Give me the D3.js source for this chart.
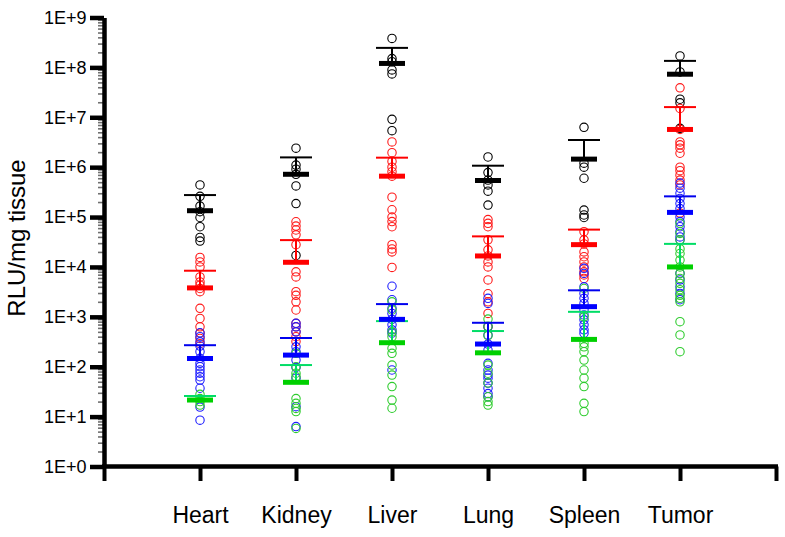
<!DOCTYPE html>
<html>
<head>
<meta charset="utf-8">
<script src="https://cdn.jsdelivr.net/npm/d3@7"></script>
<style>
  html, body { margin: 0; padding: 0; background: #ffffff; }
  svg { display: block; font-family: "Liberation Sans", Arial, sans-serif; }
</style>
</head>
<body>
<svg id="chart" width="785" height="537"></svg>
<script>
// ---------- DATA ----------
const categories = ["Heart", "Kidney", "Liver", "Lung", "Spleen", "Tumor"];
const yTickValues = [1, 1e1, 1e2, 1e3, 1e4, 1e5, 1e6, 1e7, 1e8, 1e9];
const yTickLabels = ["1E+0", "1E+1", "1E+2", "1E+3", "1E+4", "1E+5", "1E+6", "1E+7", "1E+8", "1E+9"];
const yLabel = "RLU/mg tissue";

// individual points per category (Heart, Kidney, Liver, Lung, Spleen, Tumor)
const blackPoints = [
  [4.4e5, 2.6e5, 1.66e5, 1.28e5, 9.8e4, 6.4e4, 3.9e4, 3.3e4],
  [2.4e6, 1.1e6, 9.1e5, 7.2e5, 4.2e5, 1.86e5, 1.7e4],
  [3.8e8, 1.5e8, 1.3e8, 8.9e7, 7.4e7, 9.1e6, 5.4e6],
  [1.6e6, 7.8e5, 5.5e5, 4.4e5, 3.3e5, 1.74e5],
  [6.3e6, 1.2e6, 1.0e6, 6.0e5, 1.38e5, 1.1e5, 9.8e4],
  [1.7e8, 8.1e7, 2.3e7, 1.95e7, 6.0e6]
];
const redPoints = [
  [1.55e4, 1.26e4, 1.0e4, 6.3e3, 5.0e3, 4.3e3, 3.7e3, 3.2e3, 1.48e3, 9.3e2, 6.3e2, 4.7e2, 3.7e2, 2.9e2],
  [8.05e4, 6.6e4, 5.5e4, 4.4e4, 2.8e4, 8.0e3, 6.3e3, 3.2e3, 2.7e3, 2.0e3, 1.37e3, 7.4e2, 6.3e2, 5.0e2, 4.0e2, 3.2e2],
  [3.2e6, 1.95e6, 1.3e6, 1.0e6, 8.1e5, 6.6e5, 2.5e5, 1.4e5, 1.0e5, 8.1e4, 6.4e4, 2.8e4, 2.3e4, 2.0e4, 9.8e3],
  [8.9e4, 7.5e4, 6.4e4, 3.5e4, 2.2e4, 1.66e4, 1.26e4, 1.0e4, 5.5e3, 2.9e3, 2.0e3, 1.17e3, 6.3e2],
  [5.1e4, 3.5e4, 2.9e4, 2.0e4, 1.6e4, 1.26e4, 1.0e4, 8.0e3, 6.9e3, 5.9e3],
  [3.9e7, 1.5e7, 5.7e6, 3.2e6, 2.8e6, 2.4e6, 1.9e6, 1.0e6, 8.5e5, 6.9e5, 5.5e5, 4.4e5, 1.2e5]
];
const bluePoints = [
  [480, 400, 316, 260, 200, 147, 117, 100, 86, 74, 63, 54, 37, 15.5, 8.5],
  [740, 630, 500, 250, 200, 136, 97, 59, 15.8, 6.3],
  [4.1e3, 2.2e3, 1.48e3, 1.17e3, 890, 690, 550, 470, 86],
  [2.35e3, 1.86e3, 630, 433, 285, 215, 117, 86, 68, 59, 47, 37, 29, 25],
  [9.4e3, 7.4e3, 4.0e3, 2.95e3, 2.35e3, 1.86e3, 1.37e3, 1.09e3, 870, 690, 550, 470],
  [4.8e5, 3.8e5, 3.0e5, 2.36e5, 1.86e5, 1.48e5, 1.0e5, 8.1e4, 6.4e4, 5.1e4, 4.0e4, 3.5e4, 7.4e3, 5.5e3, 4.0e3, 2.95e3, 2.2e3]
];
const greenPoints = [
  [28, 23, 20, 17],
  [186, 100, 74, 63, 23, 18.5, 14.6, 12.6, 5.8],
  [2.0e3, 1.37e3, 500, 400, 234, 186, 108, 68, 40, 21.5, 14.7],
  [900, 650, 420, 108, 74, 47, 25, 20, 17],
  [3.7e3, 1.0e3, 295, 250, 200, 136, 86, 59, 40, 18.5, 12.6],
  [7.5e4, 4.7e4, 3.5e4, 2.3e4, 1.86e4, 1.37e4, 1.0e4, 7.4e3, 5.9e3, 4.7e3, 3.5e3, 2.7e3, 2.35e3, 2.0e3, 800, 433, 200]
];

// group means and upper error-bar ends
const blackMean  = [1.34e5, 7.2e5, 1.2e8, 5.4e5, 1.45e6, 7.3e7];
const blackUpper = [2.76e5, 1.57e6, 2.46e8, 1.07e6, 3.5e6, 1.35e8];
const redMean    = [3.8e3, 1.24e4, 6.6e5, 1.66e4, 2.8e4, 5.7e6];
const redUpper   = [8.4e3, 3.45e4, 1.55e6, 4.1e4, 5.6e4, 1.6e7];
const blueMean   = [146, 171, 890, 285, 1.6e3, 1.24e5];
const blueUpper  = [270, 376, 1.8e3, 760, 3.4e3, 2.6e5];
const greenMean  = [21.5, 48.7, 303, 190, 353, 1.0e4];
const greenUpper = [25.9, 108, 820, 519, 1.26e3, 2.9e4];

// ---------- STYLE ----------
const groups = [
  { points: blackPoints, mean: blackMean, upper: blackUpper, dot: "#000000", bar: "#000000", cap: "#000000" },
  { points: redPoints,   mean: redMean,   upper: redUpper,   dot: "#ff1a1a", bar: "#ff0000", cap: "#ff0000" },
  { points: bluePoints,  mean: blueMean,  upper: blueUpper,  dot: "#1f1fff", bar: "#0000ff", cap: "#0000ee" },
  { points: greenPoints, mean: greenMean, upper: greenUpper, dot: "#2ecc2e", bar: "#00d000", cap: "#00dd66" }
];

const svg = d3.select("#chart");
const axisX0 = 104, axisX1 = 776, axisY0 = 466.5, axisY1 = 17.5;

const y = d3.scaleLog().domain([1, 1e9]).range([axisY0, axisY1]);
const x = d3.scaleLinear().domain([0, categories.length + 1]).range([axisX0, axisX1]);

// minor ticks
const minorTicks = [];
for (let d = 0; d < 9; d++) for (let k = 2; k <= 9; k++) minorTicks.push(k * Math.pow(10, d));

const minorAxis = svg.append("g")
  .attr("transform", `translate(${axisX0},0)`)
  .call(d3.axisLeft(y).tickValues(minorTicks).tickSize(6).tickSizeOuter(0).tickFormat(""));
minorAxis.select(".domain").remove();
minorAxis.selectAll(".tick line").attr("stroke", "#707070").attr("stroke-width", 1.6);

// major y axis
const yAxis = svg.append("g")
  .attr("transform", `translate(${axisX0},0)`)
  .call(d3.axisLeft(y).tickValues(yTickValues).tickSize(14).tickSizeOuter(0).tickPadding(3.5)
        .tickFormat((d, i) => yTickLabels[i]));
yAxis.select(".domain").attr("stroke", "#000").attr("stroke-width", 4.5);
yAxis.selectAll(".tick line").attr("stroke", "#000").attr("stroke-width", 4.5);
yAxis.selectAll(".tick text").attr("font-size", 18).attr("fill", "#000")
  .attr("font-family", "Liberation Sans, Arial, sans-serif");

// x axis
const xTickVals = d3.range(0, categories.length + 2);
const xAxis = svg.append("g")
  .attr("transform", `translate(0,${axisY0})`)
  .call(d3.axisBottom(x).tickValues(xTickVals).tickSize(14.5).tickSizeOuter(0).tickPadding(25.5)
        .tickFormat(i => (i >= 1 && i <= categories.length) ? categories[i - 1] : ""));
xAxis.select(".domain").attr("stroke", "#000").attr("stroke-width", 4.5)
  .attr("d", `M${axisX0 - 2},0H${axisX1 + 2}`);
xAxis.selectAll(".tick line").attr("stroke", "#000").attr("stroke-width", 4);
xAxis.selectAll(".tick text").attr("font-size", 23).attr("fill", "#000")
  .attr("font-family", "Liberation Sans, Arial, sans-serif");

// y axis title
svg.append("text")
  .attr("transform", "translate(25,238) rotate(-90)")
  .attr("text-anchor", "middle")
  .attr("font-size", 24)
  .attr("fill", "#000")
  .text(yLabel);

// points
const plot = svg.append("g");
groups.forEach(g => {
  g.points.forEach((vals, ci) => {
    plot.selectAll(null).data(vals).enter().append("circle")
      .attr("cx", x(ci + 1))
      .attr("cy", d => y(d))
      .attr("r", 4.2)
      .attr("fill", "none")
      .attr("stroke", g.dot)
      .attr("stroke-width", 1.1);
  });
});

// mean + error bars
const capHalf = 16, meanHalf = 13;
const bars = svg.append("g");
groups.slice().reverse().forEach(g => {
  categories.forEach((c, ci) => {
    const cx = x(ci + 1);
    bars.append("line")
      .attr("x1", cx).attr("x2", cx)
      .attr("y1", y(g.mean[ci])).attr("y2", y(g.upper[ci]))
      .attr("stroke", g.cap).attr("stroke-width", 2);
    bars.append("line")
      .attr("x1", cx - capHalf).attr("x2", cx + capHalf)
      .attr("y1", y(g.upper[ci])).attr("y2", y(g.upper[ci]))
      .attr("stroke", g.cap).attr("stroke-width", 2);
    bars.append("line")
      .attr("x1", cx - meanHalf).attr("x2", cx + meanHalf)
      .attr("y1", y(g.mean[ci])).attr("y2", y(g.mean[ci]))
      .attr("stroke", g.bar).attr("stroke-width", 5);
  });
});
</script>
</body>
</html>
